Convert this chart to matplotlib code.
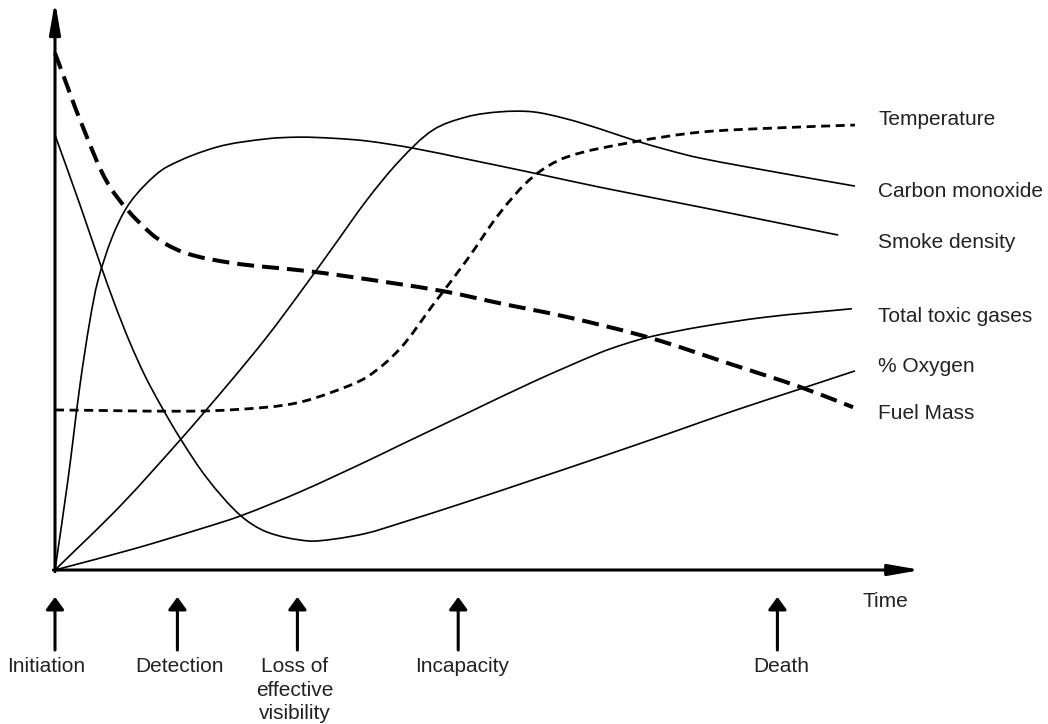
import numpy as np
import matplotlib
matplotlib.use('Agg')
import matplotlib.pyplot as plt
from matplotlib.path import Path
from matplotlib.patches import PathPatch

plt.rcParams['font.family'] = ['Liberation Sans', 'DejaVu Sans']
plt.rcParams['lines.scale_dashes'] = False

# time runs 0..100 along the x axis, level 0..100 up the y axis
fuel_t = [0, 3.5, 6.9, 11.9, 16, 22.25, 30.6, 36, 48.5, 55.6, 64, 74.4, 84.75, 93.1, 99.75]
fuel_v = [94.0, 80.5, 69.6, 61.3, 57.8, 55.8, 54.5, 53.5, 50.7, 48.5, 46.0, 42.2, 37.3, 33.3, 29.6]

temp_t = [0, 18.1, 26.5, 30.6, 34.75, 39, 43.1, 47.25, 51.5, 55.6, 59.75, 64, 72.25, 80.6, 90.6, 100]
temp_v = [29.1, 28.9, 29.6, 30.5, 32.4, 35.1, 40.2, 48.2, 56.4, 64.9, 71.5, 75.1, 77.8, 79.6, 80.4, 80.9]

smoke_t = [0, 1.62, 3.12, 4.38, 5.38, 7.12, 9.0, 11.25, 14.0, 20.25, 26.5, 30.6, 34.75, 39.0,
           44.75, 51.5, 59.75, 68.1, 80.6, 97.9]
smoke_v = [0, 16.4, 33.6, 45.5, 52.7, 60.4, 66.0, 70.0, 73.3, 76.9, 78.4, 78.7, 78.5, 78.0,
           76.7, 74.7, 72.2, 69.6, 66.0, 60.9]

co_t = [0, 8.12, 15.62, 21.88, 26.5, 30.62, 34.75, 39.0, 43.12, 47.25, 51.5, 55.62, 59.75,
        64.0, 68.12, 72.25, 76.5, 80.62, 90.62, 100.0]
co_v = [0, 11.6, 23.6, 34.2, 42.4, 50.4, 58.7, 67.3, 74.5, 80.0, 82.4, 83.3, 83.3,
        82.0, 80.2, 78.2, 76.4, 74.9, 72.2, 69.8]

oxy_t = [0, 3.12, 5.62, 7.5, 9.38, 11.25, 13.12, 15.62, 19.0, 23.12, 26.5, 31.5, 34.75, 39.0,
         43.12, 51.5, 59.75, 68.12, 76.5, 84.75, 93.12, 100.0]
oxy_v = [79.1, 66.4, 55.8, 48.2, 41.3, 35.3, 30.2, 24.0, 16.7, 10.0, 6.9, 5.3, 5.6, 6.7,
         8.5, 12.4, 16.4, 20.5, 24.7, 28.9, 32.9, 36.2]

toxic_t = [0, 9.75, 18.12, 23.12, 30.62, 39.0, 43.12, 51.5, 59.75, 68.12, 71.25, 74.38,
           80.62, 89.0, 99.62]
toxic_v = [0, 3.8, 7.45, 9.8, 14.2, 19.8, 22.7, 28.5, 34.2, 39.5, 41.1, 42.4,
           44.2, 46.0, 47.5]

series_labels = ['Temperature', 'Carbon monoxide', 'Smoke density',
                 'Total toxic gases', '% Oxygen', 'Fuel Mass']
label_levels = [80.9, 67.8, 58.5, 45.1, 36.0, 27.5]

event_names = ['Initiation', 'Detection', 'Loss of\neffective\nvisibility', 'Incapacity', 'Death']
event_times = [0, 15.3, 30.3, 50.4, 90.3]
event_label_x = [-1.1, 15.6, 30.0, 50.9, 90.75]


def smooth_path(xs, ys, sx=8.0, sy=5.5):
    # hermite curve through the read points, tangents from chord lengths on screen
    p = np.column_stack([xs, ys]).astype(float)
    d = np.hypot(*(np.diff(p, axis=0) * [sx, sy]).T)
    m = np.zeros_like(p)
    m[0] = (p[1] - p[0]) / d[0]
    m[-1] = (p[-1] - p[-2]) / d[-1]
    for i in range(1, len(p) - 1):
        m[i] = (p[i + 1] - p[i - 1]) / (d[i - 1] + d[i])
    verts = [p[0]]
    codes = [Path.MOVETO]
    for i in range(len(p) - 1):
        verts += [p[i] + m[i] * d[i] / 3, p[i + 1] - m[i + 1] * d[i] / 3, p[i + 1]]
        codes += [Path.CURVE4] * 3
    return Path(verts, codes)


fig = plt.figure(figsize=(10.48, 7.24), dpi=100)
ax = fig.add_axes([0, 0, 1, 1])
ax.set_xlim(-6.875, 124.125)
ax.set_ylim(-28.0, 103.636)
ax.axis('off')

curves = [
    (fuel_t, fuel_v, 2.9, (0, (12.2, 5.8))),
    (temp_t, temp_v, 2.0, (0, (6.5, 4.0))),
    (smoke_t, smoke_v, 1.2, '-'),
    (co_t, co_v, 1.2, '-'),
    (oxy_t, oxy_v, 1.2, '-'),
    (toxic_t, toxic_v, 1.2, '-'),
]
for t, v, lw, ls in curves:
    ax.add_patch(PathPatch(smooth_path(t, v), fill=False, edgecolor='black',
                           lw=lw, linestyle=ls, capstyle='butt', joinstyle='round'))

# axes with arrow heads
axis_style = dict(arrowstyle='-|>,head_length=1.9,head_width=0.33', lw=2.2,
                  color='black', shrinkA=0, shrinkB=0, mutation_scale=10)
ax.annotate('', xy=(0, 103.4), xytext=(0, -0.3), arrowprops=axis_style)
ax.annotate('', xy=(108.25, 0), xytext=(-0.2, 0), arrowprops=axis_style)

text_kw = dict(fontsize=15, color='#222222')
for name, level in zip(series_labels, label_levels):
    ax.text(102.9, level, name, ha='left', va='baseline', **text_kw)

ax.text(100.9, -6.73, 'Time', ha='left', va='baseline', **text_kw)

event_style = dict(arrowstyle='-|>,head_length=0.75,head_width=0.55', lw=2.2,
                   color='black', shrinkA=0, shrinkB=0, mutation_scale=10)
for name, t, lx in zip(event_names, event_times, event_label_x):
    ax.annotate('', xy=(t, -4.9), xytext=(t, -14.55), arrowprops=event_style)
    ax.text(lx, -15.8, name, ha='center', va='top', linespacing=1.32, **text_kw)

fig.savefig('out.png', dpi=100)
